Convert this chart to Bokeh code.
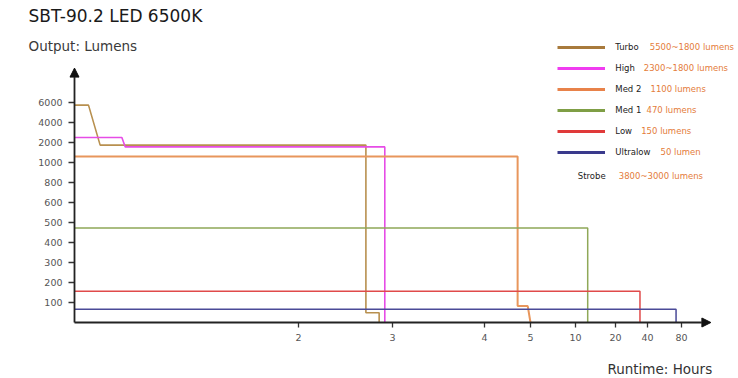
import numpy as np
from bokeh.plotting import figure
from bokeh.models import (Range1d, LinearAxis, FixedTicker, Label, Arrow, NormalHead,
                          Legend, LegendItem, ColumnDataSource)
from bokeh.embed import file_html
from bokeh.resources import INLINE

# ---------------- data ----------------
title_text = "SBT-90.2 LED 6500K"
y_title = "Output: Lumens"
x_title = "Runtime: Hours"

# non-uniform axis scales (tick value -> axis slot)
x_tick_hours = [0, 2, 3, 4, 5, 10, 20, 40, 80]
x_tick_slots = [0, 224, 318, 410, 456, 501, 541, 573, 607]
y_tick_lumens = [0, 100, 200, 300, 400, 500, 600, 800, 1000, 2000, 4000, 6000]
y_tick_slots = list(range(12))

modes = ["Turbo", "High", "Med 2", "Med 1", "Low", "Ultralow"]
mode_specs = ["5500~1800 lumens", "2300~1800 lumens", "1100 lumens",
              "470 lumens", "150 lumens", "50 lumen"]
strobe_name = "Strobe"
strobe_spec = "3800~3000 lumens"

turbo_hours = [0, 0.125, 0.229, 2.717, 2.717, 2.858, 2.858]
turbo_lumens = [5740, 5740, 1870, 1870, 49, 49, 0]
high_hours = [0, 0.423, 0.453, 2.918, 2.918]
high_lumens = [2500, 2500, 1780, 1780, 0]
med2_hours = [0, 4.72, 4.72, 4.94, 5.0]
med2_lumens = [1300, 1300, 82, 82, 0]
med1_hours = [0, 13.05, 13.05]
med1_lumens = [472, 472, 0]
low_hours = [0, 35.3, 35.3]
low_lumens = [156, 156, 0]
ultralow_hours = [0, 73.6, 73.6]
ultralow_lumens = [66, 66, 0]

series_hours = [turbo_hours, high_hours, med2_hours, med1_hours, low_hours, ultralow_hours]
series_lumens = [turbo_lumens, high_lumens, med2_lumens, med1_lumens, low_lumens, ultralow_lumens]

# ---------------- styles ----------------
line_colors = ["#b8904f", "#e64ce6", "#e8965c", "#8fa858", "#e04a4a", "#4a4a98"]
legend_colors = ["#a87a3c", "#f03cf0", "#e8824a", "#7f9e45", "#e03a3a", "#3a3a8c"]
line_widths = [1.6, 1.6, 2.0, 1.5, 1.5, 1.5]
FONT = "DejaVu Sans"
ORANGE = "#e47c3a"
H = 378  # canvas height, for screen-unit labels


def xs(h):
    return np.interp(h, x_tick_hours, x_tick_slots)


def ys(v):
    return np.interp(v, y_tick_lumens, y_tick_slots)


p = figure(width=738, height=378, output_backend="svg", toolbar_location=None,
           x_range=Range1d(-74, 664), y_range=Range1d(-2.8, 16.1),
           x_axis_type=None, y_axis_type=None,
           min_border=0, min_border_left=0, min_border_bottom=0,
           min_border_top=0, min_border_right=0)
p.outline_line_color = None
p.background_fill_color = "white"
p.border_fill_color = "white"

# axes (fixed at the data origin)
yaxis = LinearAxis(ticker=FixedTicker(ticks=y_tick_slots[1:]), fixed_location=0)
yaxis.major_label_overrides = {s: str(v) for s, v in zip(y_tick_slots[1:], y_tick_lumens[1:])}
xaxis = LinearAxis(ticker=FixedTicker(ticks=x_tick_slots[1:]), fixed_location=0)
xaxis.major_label_overrides = {s: str(v) for s, v in zip(x_tick_slots[1:], x_tick_hours[1:])}
for ax in (yaxis, xaxis):
    ax.axis_line_color = None
    ax.major_tick_line_color = "#333333"
    ax.major_tick_line_width = 1.3
    ax.major_tick_in = 0
    ax.minor_tick_line_color = None
    ax.major_label_text_font = FONT
    ax.major_label_text_font_size = "9.5px"
    ax.major_label_text_color = "#555555"
yaxis.major_tick_out = 6
yaxis.major_label_standoff = 6
xaxis.major_tick_out = 5
xaxis.major_label_standoff = 6
p.add_layout(yaxis, "left")
p.add_layout(xaxis, "below")

# axis lines with arrow heads
p.add_layout(Arrow(end=NormalHead(size=9, fill_color="#111111", line_color="#111111", line_width=1),
                   x_start=0, y_start=0, x_end=0, y_end=12.72,
                   line_color="#222222", line_width=1.8))
p.add_layout(Arrow(end=NormalHead(size=9, fill_color="#111111", line_color="#111111", line_width=1),
                   x_start=0, y_start=0, x_end=636.4, y_end=0,
                   line_color="#222222", line_width=1.8))

# series
items = []
for name, hrs, lum, c, lc, w in zip(modes, series_hours, series_lumens,
                                    line_colors, legend_colors, line_widths):
    src = ColumnDataSource(dict(x=xs(hrs), y=ys(lum)))
    p.line("x", "y", source=src, line_color=c, line_width=w)
    proxy = p.line(x=[np.nan], y=[np.nan], line_color=lc, line_width=3)
    items.append(LegendItem(label=name, renderers=[proxy]))

legend = Legend(items=items, location=(557.3, H - 158.7), orientation="vertical",
                glyph_width=48, glyph_height=14, label_height=14, spacing=7,
                label_standoff=10, padding=0, margin=0,
                border_line_alpha=0, background_fill_alpha=0,
                label_text_font=FONT, label_text_font_size="8.5px",
                label_text_color="#222222")
p.add_layout(legend, "center")

# legend value texts (orange)
spec_x = [649.3, 643.3, 650, 646, 640.7, 660]
spec_y = [46.7, 67.7, 88.7, 109.7, 130.7, 151.7]
for sx, sy, t in zip(spec_x, spec_y, mode_specs):
    p.add_layout(Label(x=sx, y=H - sy, x_units="screen", y_units="screen", text=t,
                       text_font=FONT, text_font_size="8.5px", text_color=ORANGE,
                       text_baseline="middle", text_align="left"))
p.add_layout(Label(x=577.3, y=H - 175.7, x_units="screen", y_units="screen", text=strobe_name,
                   text_font=FONT, text_font_size="8.5px", text_color="#222222",
                   text_baseline="middle", text_align="left"))
p.add_layout(Label(x=618.3, y=H - 175.7, x_units="screen", y_units="screen", text=strobe_spec,
                   text_font=FONT, text_font_size="8.5px", text_color=ORANGE,
                   text_baseline="middle", text_align="left"))

# titles
p.add_layout(Label(x=28, y=H - 15.5, x_units="screen", y_units="screen", text=title_text,
                   text_font=FONT, text_font_size="17px", text_color="#1a1a1a",
                   text_baseline="middle", text_align="left"))
p.add_layout(Label(x=28, y=H - 45, x_units="screen", y_units="screen", text=y_title,
                   text_font=FONT, text_font_size="13.5px", text_color="#3a3a3a",
                   text_baseline="middle", text_align="left"))
p.add_layout(Label(x=711.7, y=H - 368.3, x_units="screen", y_units="screen", text=x_title,
                   text_font=FONT, text_font_size="13.5px", text_color="#333333",
                   text_baseline="middle", text_align="right"))

open("out.html", "w").write(file_html(p, INLINE))
